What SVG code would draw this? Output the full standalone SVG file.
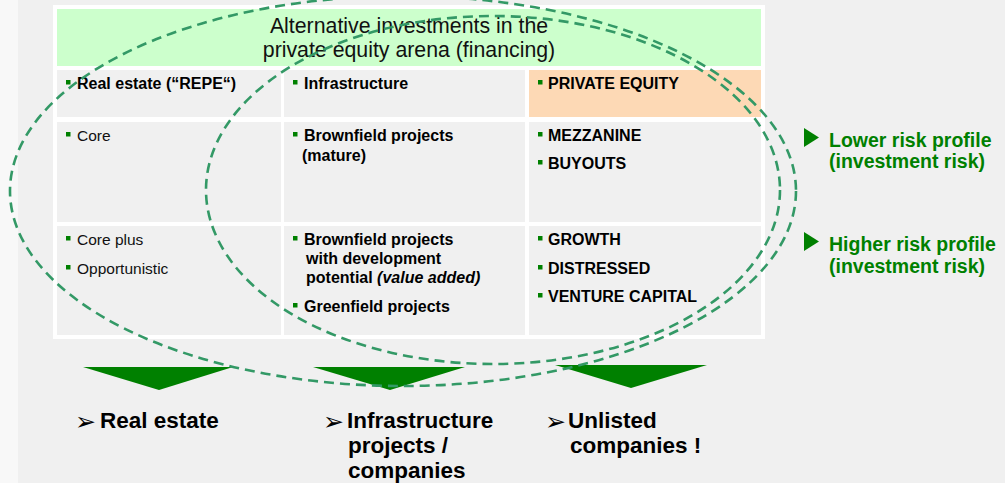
<svg xmlns="http://www.w3.org/2000/svg" width="1005" height="483" viewBox="0 0 1005 483">
<style>
.r{font-family:"Liberation Sans",Arial,sans-serif;font-size:15.5px;fill:#111}
.b{font-family:"Liberation Sans",Arial,sans-serif;font-size:16px;font-weight:bold;fill:#000}
.h{font-family:"Liberation Sans",Arial,sans-serif;font-size:21.3px;fill:#111}
.g{font-family:"Liberation Sans",Arial,sans-serif;font-size:19.5px;font-weight:bold;fill:#008000}
.bl{font-family:"Liberation Sans",Arial,sans-serif;font-size:22.5px;font-weight:bold;fill:#000}
.ar{font-family:"DejaVu Sans",sans-serif;font-size:25px;fill:#000}
.cell{fill:#f0f0f0}
.dot{fill:#008000}
.ell{fill:none;stroke:#339966;stroke-width:2.6;stroke-dasharray:10 6}
.tri{fill:#008000}
</style>
<defs>
<rect id="sq" width="4.5" height="4.5" class="dot"/>
<polygon id="rt" points="0,0 15,9.5 0,19" fill="#008000"/>
</defs>
<rect x="0" y="0" width="1005" height="483" fill="#f0f0f0"/>
<rect x="0" y="0" width="18" height="483" fill="#f8f8f8"/>
<rect x="53" y="5" width="712" height="334" fill="#ffffff"/>

<g id="header">
<rect x="57" y="9" width="704" height="57" fill="#ccffcc"/>
<text class="h" x="409" y="33" text-anchor="middle">Alternative investments in the</text>
<text class="h" x="409" y="57" text-anchor="middle">private equity arena (financing)</text>
</g>

<g id="cell-real-estate">
<rect class="cell" x="57" y="70" width="224" height="47"/>
<use href="#sq" x="66" y="80"/>
<text class="b" x="77" y="89">Real estate (“REPE“)</text>
</g>
<g id="cell-infrastructure">
<rect class="cell" x="284" y="70" width="241" height="47"/>
<use href="#sq" x="293" y="80"/>
<text class="b" x="304" y="89">Infrastructure</text>
</g>
<g id="cell-private-equity">
<rect x="529" y="70" width="232" height="47" fill="#fdd9b5"/>
<use href="#sq" x="538" y="80"/>
<text class="b" x="548" y="89">PRIVATE EQUITY</text>
</g>

<g id="cell-core">
<rect class="cell" x="57" y="122" width="224" height="100"/>
<use href="#sq" x="66" y="132"/>
<text class="r" x="77" y="141">Core</text>
</g>
<g id="cell-brownfield-mature">
<rect class="cell" x="284" y="122" width="241" height="100"/>
<use href="#sq" x="293" y="132"/>
<text class="b" x="304" y="141">Brownfield projects</text>
<text class="b" x="302" y="161">(mature)</text>
</g>
<g id="cell-mezzanine">
<rect class="cell" x="529" y="122" width="232" height="100"/>
<use href="#sq" x="538" y="132"/>
<text class="b" x="548" y="141">MEZZANINE</text>
<use href="#sq" x="538" y="160"/>
<text class="b" x="548" y="169">BUYOUTS</text>
</g>

<g id="cell-core-plus">
<rect class="cell" x="57" y="226" width="224" height="109"/>
<use href="#sq" x="66" y="236"/>
<text class="r" x="77" y="245">Core plus</text>
<use href="#sq" x="66" y="265"/>
<text class="r" x="77" y="274">Opportunistic</text>
</g>
<g id="cell-brownfield-dev">
<rect class="cell" x="284" y="226" width="241" height="109"/>
<use href="#sq" x="293" y="236"/>
<text class="b" x="304" y="245">Brownfield projects</text>
<text class="b" x="306" y="264">with development</text>
<text class="b" x="306" y="283">potential <tspan font-style="italic">(value added)</tspan></text>
<use href="#sq" x="293" y="303"/>
<text class="b" x="304" y="312">Greenfield projects</text>
</g>
<g id="cell-growth">
<rect class="cell" x="529" y="226" width="232" height="109"/>
<use href="#sq" x="538" y="236"/>
<text class="b" x="548" y="245">GROWTH</text>
<use href="#sq" x="538" y="265"/>
<text class="b" x="548" y="274">DISTRESSED</text>
<use href="#sq" x="538" y="293"/>
<text class="b" x="548" y="302">VENTURE CAPITAL</text>
</g>

<g id="lower-risk">
<use href="#rt" x="804" y="128"/>
<text class="g" x="829" y="147">Lower risk profile</text>
<text class="g" x="829" y="168">(investment risk)</text>
</g>
<g id="higher-risk">
<use href="#rt" x="804" y="232"/>
<text class="g" x="829" y="251">Higher risk profile</text>
<text class="g" x="829" y="273">(investment risk)</text>
</g>

<g id="connectors">
<polygon class="tri" points="83,367 233,367 159,390"/>
<polygon class="tri" points="313,367 465,367 390,390"/>
<polygon class="tri" points="555,365 707,365 631,388"/>
</g>

<g id="label-real-estate">
<text class="ar" x="75" y="430">➢</text>
<text class="bl" x="100" y="428">Real estate</text>
</g>
<g id="label-infrastructure">
<text class="ar" x="323" y="430">➢</text>
<text class="bl" x="347" y="428">Infrastructure</text>
<text class="bl" x="348" y="453">projects /</text>
<text class="bl" x="348" y="478">companies</text>
</g>
<g id="label-unlisted">
<text class="ar" x="545" y="430">➢</text>
<text class="bl" x="568" y="428">Unlisted</text>
<text class="bl" x="570" y="453">companies !</text>
</g>

<g id="ellipses">
<ellipse class="ell" cx="403" cy="191" rx="393" ry="195"/>
<ellipse class="ell" cx="493" cy="190" rx="287" ry="174"/>
</g>
</svg>
